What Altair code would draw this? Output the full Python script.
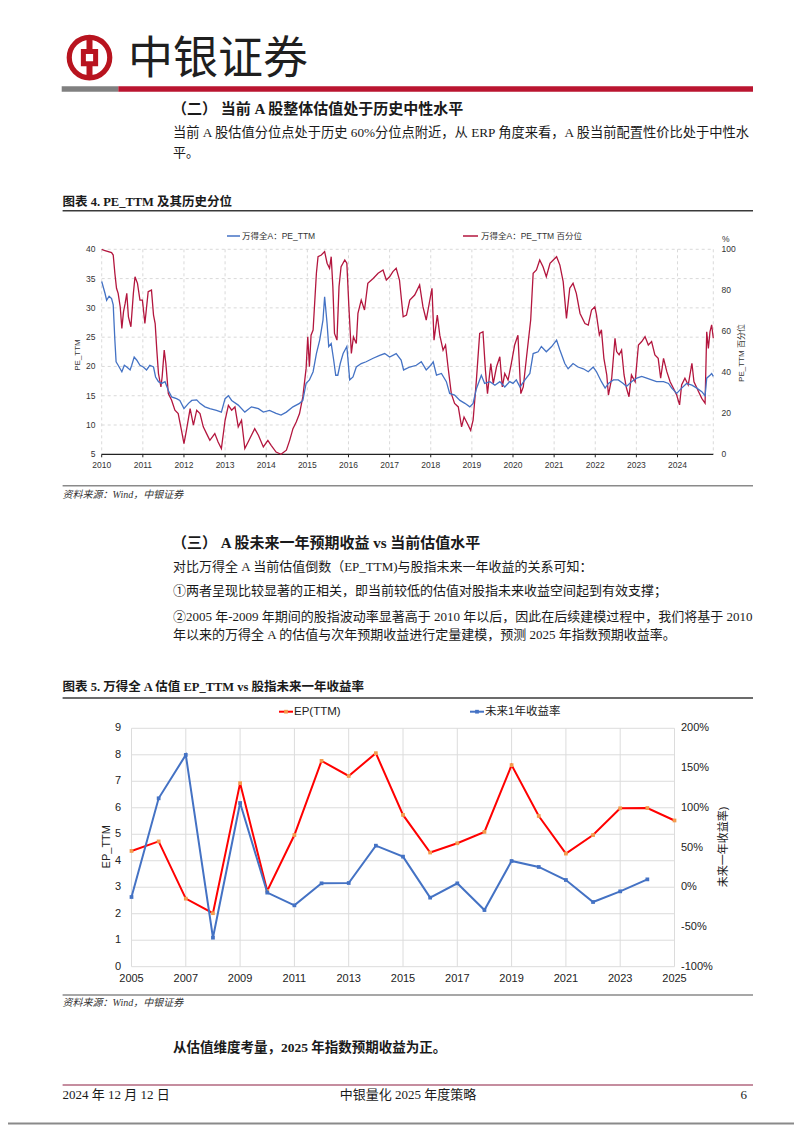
import altair as alt
import pandas as pd

# ---------------- data ----------------
# Chart 4: PE_TTM (left axis) and its historical percentile (right axis, %)
pe_year = [2010.00, 2010.08, 2010.12, 2010.18, 2010.24, 2010.28, 2010.32, 2010.35, 2010.40, 2010.49, 2010.55, 2010.61, 2010.69, 2010.73, 2010.79, 2010.85, 2010.93,
           2011.01, 2011.09, 2011.17, 2011.26, 2011.31, 2011.38, 2011.46, 2011.54, 2011.62, 2011.70, 2011.82, 2011.90,
           2012.00, 2012.11, 2012.19, 2012.31, 2012.39, 2012.51, 2012.63, 2012.79, 2012.91,
           2013.00, 2013.08, 2013.16, 2013.32, 2013.48, 2013.64, 2013.81, 2013.93,
           2014.08, 2014.24, 2014.36, 2014.49, 2014.65, 2014.81, 2014.89, 2014.97,
           2015.05, 2015.14, 2015.22, 2015.30, 2015.38, 2015.42, 2015.48, 2015.52, 2015.58, 2015.64, 2015.69, 2015.74, 2015.80, 2015.87, 2015.96,
           2016.03, 2016.11, 2016.19, 2016.31, 2016.43, 2016.60, 2016.76, 2016.88,
           2017.00, 2017.16, 2017.28, 2017.34, 2017.49, 2017.65, 2017.77, 2017.89,
           2018.00, 2018.06, 2018.14, 2018.26, 2018.38, 2018.46, 2018.58, 2018.71, 2018.83, 2018.95,
           2019.03, 2019.11, 2019.23, 2019.31, 2019.44, 2019.56, 2019.68, 2019.80, 2019.92,
           2020.00, 2020.08, 2020.17, 2020.29, 2020.41, 2020.49, 2020.61, 2020.69, 2020.81, 2020.94,
           2021.06, 2021.14, 2021.26, 2021.34, 2021.46, 2021.58, 2021.71, 2021.83, 2021.95,
           2022.03, 2022.15, 2022.24, 2022.32, 2022.44, 2022.56, 2022.68, 2022.76, 2022.88,
           2023.01, 2023.13, 2023.25, 2023.37, 2023.49, 2023.66, 2023.78, 2023.86, 2023.98,
           2024.10, 2024.22, 2024.35, 2024.47, 2024.59, 2024.67, 2024.71, 2024.79, 2024.83, 2024.87]
pe_value = [34.5, 32.5, 31.3, 32.0, 31.6, 30.5, 24.5, 20.8, 20.2, 19.1, 20.2, 19.9, 19.4, 20.2, 21.6, 21.1, 20.2,
            19.9, 19.4, 20.2, 19.9, 18.2, 17.4, 17.1, 17.4, 15.9, 14.8, 14.5, 14.2,
            12.8, 13.7, 14.2, 14.3, 13.7, 13.1, 12.8, 12.5, 12.2,
            14.5, 15.0, 14.2, 13.4, 12.2, 13.1, 12.8, 12.2,
            12.5, 12.0, 11.7, 12.2, 13.1, 13.7, 14.2, 17.1,
            17.7, 19.1, 22.2, 24.5, 27.9, 31.9, 27.3, 23.4, 23.9, 21.1, 18.5, 18.5, 20.5, 22.2, 23.4,
            17.7, 18.2, 19.9, 20.5, 20.8, 21.4, 21.9, 22.2,
            21.6, 22.2, 21.1, 19.4, 19.9, 20.2, 20.8, 19.4,
            20.2, 20.8, 18.5, 18.8, 17.4, 15.4, 15.1, 14.2, 13.7, 13.1,
            13.7, 16.2, 18.5, 17.1, 17.4, 16.8, 17.4, 16.5, 17.4,
            17.1, 17.7, 16.5, 17.7, 18.8, 22.2, 22.5, 23.4, 22.5, 23.4,
            24.5, 22.8, 20.5, 19.6, 20.5, 19.9, 19.6, 19.1, 19.9,
            19.1, 17.4, 16.3, 17.1, 17.7, 17.7, 17.1, 16.6, 17.4,
            18.0, 18.3, 18.0, 17.7, 17.4, 17.4, 17.1, 16.3, 15.4,
            16.3, 17.1, 16.8, 16.3, 15.7, 15.0, 18.0, 18.5, 18.8, 18.3]

pct_year = [2010.00, 2010.08, 2010.24, 2010.28, 2010.32, 2010.36, 2010.40, 2010.45, 2010.49, 2010.53, 2010.57, 2010.61, 2010.65, 2010.71, 2010.77, 2010.81, 2010.87, 2010.93, 2010.99,
            2011.05, 2011.13, 2011.21, 2011.26, 2011.30, 2011.34, 2011.38, 2011.44, 2011.47, 2011.52, 2011.56, 2011.62, 2011.70, 2011.78, 2011.86, 2011.94,
            2012.00, 2012.06, 2012.15, 2012.23, 2012.31, 2012.39, 2012.47, 2012.55, 2012.63, 2012.75, 2012.83, 2012.91,
            2013.00, 2013.08, 2013.16, 2013.24, 2013.32, 2013.40, 2013.48, 2013.56, 2013.72, 2013.81, 2013.93,
            2014.04, 2014.12, 2014.24, 2014.36, 2014.49, 2014.57, 2014.65, 2014.73, 2014.81, 2014.89, 2014.97,
            2015.01, 2015.05, 2015.09, 2015.14, 2015.22, 2015.26, 2015.34, 2015.42, 2015.48, 2015.54, 2015.58, 2015.62, 2015.66, 2015.72, 2015.77, 2015.82, 2015.91, 2015.96,
            2016.01, 2016.07, 2016.12, 2016.19, 2016.23, 2016.31, 2016.39, 2016.47, 2016.60, 2016.72, 2016.84, 2016.92,
            2017.00, 2017.08, 2017.16, 2017.24, 2017.33, 2017.41, 2017.49, 2017.61, 2017.73, 2017.81, 2017.89,
            2018.03, 2018.08, 2018.16, 2018.22, 2018.30, 2018.36, 2018.42, 2018.50, 2018.58, 2018.67, 2018.75, 2018.81, 2018.89, 2018.97,
            2019.03, 2019.11, 2019.19, 2019.27, 2019.33, 2019.38, 2019.46, 2019.52, 2019.60, 2019.68, 2019.74, 2019.80, 2019.88, 2019.96,
            2020.04, 2020.12, 2020.19, 2020.25, 2020.33, 2020.43, 2020.49, 2020.57, 2020.65, 2020.73, 2020.81, 2020.90, 2020.98,
            2021.06, 2021.14, 2021.22, 2021.30, 2021.38, 2021.46, 2021.54, 2021.63, 2021.75, 2021.83, 2021.91, 2021.99,
            2022.03, 2022.10, 2022.15, 2022.21, 2022.28, 2022.32, 2022.40, 2022.48, 2022.52, 2022.58, 2022.64, 2022.70, 2022.76, 2022.82, 2022.88, 2022.97,
            2023.05, 2023.13, 2023.21, 2023.29, 2023.37, 2023.45, 2023.53, 2023.59, 2023.66, 2023.74, 2023.82, 2023.90, 2023.98,
            2024.05, 2024.10, 2024.18, 2024.26, 2024.35, 2024.40, 2024.51, 2024.59, 2024.67, 2024.71, 2024.75, 2024.79, 2024.83, 2024.87]
pct_value = [100, 99.3, 98.4, 97.2, 88.3, 81, 78.5, 72, 61.4, 69.5, 73.6, 78.5, 67, 62.2, 78.5, 86.6, 83.4, 75.2, 75.2,
             63.8, 79.3, 80.1, 67.9, 63.8, 50.8, 39.4, 32.9, 37.8, 50.8, 44.3, 29.6, 26.4, 21.5, 19.9, 11.7,
             5.2, 11.7, 22.3, 14.2, 21.5, 19.9, 13.4, 10.1, 6.8, 10.1, 6.0, 2.8,
             16.6, 23.9, 21.5, 23.1, 13.4, 16.6, 2.8, 6.0, 12.5, 9.3, 3.6,
             6.8, 4.4, 1.1, 0, 2.0, 6.8, 12.5, 15.8, 19.9, 28.0, 41.9,
             57.3, 42.7, 58.1, 60.6, 88.3, 96.4, 97.2, 98.9, 93.2, 90.7, 96.4, 81.8, 59.0, 55.7, 81.8, 91.5, 94.8, 93.2,
             72.0, 49.2, 57.3, 54.1, 68.7, 75.2, 70.4, 83.4, 85.8, 88.3, 89.9, 85.0,
             86.6, 89.1, 90.7, 85.0, 67.1, 67.9, 75.2, 77.7, 82.6, 72.0, 65.5,
             81.0, 55.7, 67.9, 58.1, 50.8, 53.3, 42.7, 29.6, 24.8, 23.1, 13.4, 18.2, 15.0, 11.7,
             16.6, 36.2, 59.0, 59.8, 41.0, 29.6, 44.3, 34.5, 42.7, 47.6, 32.9, 39.4, 36.2, 44.3,
             53.3, 58.1, 29.6, 32.9, 47.6, 65.5, 88.3, 89.9, 94.8, 91.5, 86.6, 93.2, 94.8,
             96.4, 92.3, 84.2, 66.3, 81.0, 83.4, 78.5, 68.7, 63.8, 63.0, 70.4, 72.0,
             68.0, 58.2, 60.7, 46.8, 38.7, 28.9, 37.1, 56.6, 50.1, 48.5, 50.9, 38.7, 32.2, 28.1, 38.7, 35.4,
             53.3, 55.0, 57.4, 53.3, 55.0, 48.5, 46.8, 37.1, 46.8, 40.3, 35.4, 32.2, 28.9,
             24.1, 33.8, 37.1, 33.8, 44.4, 35.4, 30.6, 27.3, 24.9, 59.8, 51.7, 59.8, 63.1, 56.6]

c1_years = list(range(2010, 2025))
c1_x_end = 2024.87
c1_left_ticks = [5, 10, 15, 20, 25, 30, 35, 40]
c1_right_ticks = [0, 20, 40, 60, 80, 100]

# Chart 5: EP_TTM (left axis) and next-year index return (right axis, %)
ep_year = list(range(2005, 2026))
ep_value = [4.37, 4.73, 2.57, 2.02, 6.93, 2.86, 4.97, 7.77, 7.20, 8.06, 5.73,
            4.31, 4.66, 5.09, 7.61, 5.69, 4.27, 4.97, 5.98, 5.99, 5.52]
ret_year = list(range(2005, 2025))
ret_value = [-12.3, 111.9, 166.5, -63.5, 106.0, -6.8, -22.8, 4.9, 5.3, 52.3,
             38.5, -13.1, 4.9, -28.7, 33.0, 25.5, 9.1, -18.6, -5.2, 9.9]
c2_year_ticks = list(range(2005, 2026, 2))
c2_left_ticks = list(range(0, 10))
c2_right_ticks = [-100, -50, 0, 50, 100, 150, 200]

# ---------------- page layout (canvas px) ----------------
SERIF = "Liberation Serif, Noto Sans CJK SC"
SANS = "Liberation Sans, Noto Sans CJK SC"
NARROW = "Liberation Sans Narrow, Liberation Sans, Noto Sans CJK SC"
BASE = pd.DataFrame({"d": [0]})

PAGE_L, PAGE_R = 54.6, 745.0

# chart 4 plot area
X1_L, X1_R, Y1_T, Y1_B = 93.7, 705.3, 241.3, 446.3
# chart 5 plot area
X2_L, X2_R, Y2_T, Y2_B = 123.5, 666.5, 720.3, 958.7

X1 = alt.Scale(domain=[2010, c1_x_end], range=[X1_L, X1_R], nice=False, zero=False)
YL1 = alt.Scale(domain=[5, 40], range=[Y1_B, Y1_T], nice=False, zero=False)
YR1 = alt.Scale(domain=[0, 100], range=[Y1_B, Y1_T], nice=False, zero=False)
X2 = alt.Scale(domain=[2005, 2025], range=[X2_L, X2_R], nice=False, zero=False)
YL2 = alt.Scale(domain=[0, 9], range=[Y2_B, Y2_T], nice=False, zero=False)
YR2 = alt.Scale(domain=[-100, 200], range=[Y2_B, Y2_T], nice=False, zero=False)

BLUE1 = "#4472C4"
RED1 = "#B3163E"
RED2 = "#FF0000"
ORANGE2 = "#F39B4C"
BLUE2 = "#4472C4"
LOGO_RED = "#B8141F"


def txt(s, x, y, size=13, weight="normal", color="#1a1a1a", align="left",
        font=SERIF, angle=0, style="normal"):
    return alt.Chart(BASE).mark_text(
        text=s, fontSize=size, fontWeight=weight, color=color, align=align,
        baseline="middle", font=font, angle=angle, fontStyle=style
    ).encode(x=alt.value(x), y=alt.value(y))


def hrule(x1, x2, y, color, w):
    return alt.Chart(BASE).mark_rule(color=color, strokeWidth=w).encode(
        x=alt.value(x1), x2=alt.value(x2), y=alt.value(y))


layers = []

# ---------- header ----------
LOGO_X, LOGO_Y = 81.5, 49.6
layers.append(alt.Chart(BASE).mark_point(shape="circle", filled=False, size=1640,
                                          strokeWidth=5.2, color=LOGO_RED, opacity=1)
              .encode(x=alt.value(LOGO_X), y=alt.value(LOGO_Y)))
for y1, y2 in [(LOGO_Y - 20.5, LOGO_Y - 7), (LOGO_Y + 7, LOGO_Y + 20.5)]:
    layers.append(alt.Chart(BASE).mark_rule(color=LOGO_RED, strokeWidth=6)
                  .encode(x=alt.value(LOGO_X), y=alt.value(y1), y2=alt.value(y2)))
layers.append(alt.Chart(BASE).mark_point(shape="square", filled=False, size=150,
                                          strokeWidth=5, color=LOGO_RED, opacity=1)
              .encode(x=alt.value(LOGO_X), y=alt.value(LOGO_Y)))
layers.append(txt("中银证券", 120, 51.5, size=45, font="Noto Sans CJK SC", color="#1f1f1f"))
layers.append(hrule(53.7, 110.3, 80.9, "#808080", 5.5))
layers.append(hrule(110.3, PAGE_R, 80.9, "#BA1530", 5.5))

# ---------- section 2 text ----------
layers.append(txt("（二） 当前 A 股整体估值处于历史中性水平", 164, 101.3, size=15, weight="bold"))
layers.append(txt("当前 A 股估值分位点处于历史 60%分位点附近，从 ERP 角度来看，A 股当前配置性价比处于中性水",
                  165, 125.3, size=13.25))
layers.append(txt("平。", 165, 145.3, size=13))
layers.append(txt("图表 4. PE_TTM 及其历史分位", PAGE_L, 193.7, size=12.5, weight="bold"))
layers.append(hrule(PAGE_L, PAGE_R, 202.7, "#3a3a3a", 1.5))

# ---------- chart 4 ----------
grid_c = "#cfcfcf"
layers.append(alt.Chart(pd.DataFrame({"v": c1_left_ticks[1:]})).mark_rule(
    color=grid_c, strokeDash=[3, 3], strokeWidth=0.8).encode(
    y=alt.Y("v:Q", scale=YL1, axis=None), x=alt.value(X1_L), x2=alt.value(X1_R)))
layers.append(alt.Chart(pd.DataFrame({"yr": c1_years + [c1_x_end]})).mark_rule(
    color=grid_c, strokeDash=[3, 3], strokeWidth=0.8).encode(
    x=alt.X("yr:Q", scale=X1, axis=None), y=alt.value(Y1_T), y2=alt.value(Y1_B)))
layers.append(hrule(X1_L, X1_R, Y1_B, "#222222", 1.2))
layers.append(alt.Chart(pd.DataFrame({"yr": c1_years})).mark_rule(
    color="#222222", strokeWidth=1).encode(
    x=alt.X("yr:Q", scale=X1, axis=None), y=alt.value(Y1_B), y2=alt.value(Y1_B + 3)))
layers.append(alt.Chart(pd.DataFrame({"yr": c1_years})).mark_text(
    fontSize=8.5, font=SANS, color="#333333", baseline="middle").encode(
    x=alt.X("yr:Q", scale=X1, axis=None), y=alt.value(456.5), text=alt.Text("yr:Q", format="d")))
layers.append(alt.Chart(pd.DataFrame({"v": c1_left_ticks})).mark_text(
    fontSize=8.5, font=SANS, color="#333333", align="right", baseline="middle").encode(
    y=alt.Y("v:Q", scale=YL1, axis=None), x=alt.value(87.5), text=alt.Text("v:Q", format="d")))
layers.append(alt.Chart(pd.DataFrame({"v": c1_right_ticks})).mark_text(
    fontSize=8.5, font=SANS, color="#333333", align="left", baseline="middle").encode(
    y=alt.Y("v:Q", scale=YR1, axis=None), x=alt.value(713.5), text=alt.Text("v:Q", format="d")))
layers.append(txt("%", 714, 230.5, size=8.5, font=SANS, color="#333333"))
layers.append(txt("PE_TTM", 70, 347, size=8, font=SANS, color="#333333", align="center", angle=270))
layers.append(txt("PE_TTM 百分位", 734, 345, size=8, font=SANS, color="#333333", align="center", angle=270))

layers.append(alt.Chart(pd.DataFrame({"yr": pct_year, "v": pct_value})).mark_line(
    color=RED1, strokeWidth=1.3).encode(
    x=alt.X("yr:Q", scale=X1, axis=None), y=alt.Y("v:Q", scale=YR1, axis=None)))
layers.append(alt.Chart(pd.DataFrame({"yr": pe_year, "v": pe_value})).mark_line(
    color=BLUE1, strokeWidth=1.3).encode(
    x=alt.X("yr:Q", scale=X1, axis=None), y=alt.Y("v:Q", scale=YL1, axis=None)))

# chart 4 legend
layers.append(hrule(219, 232, 228, BLUE1, 1.5))
layers.append(txt("万得全A：PE_TTM", 234, 228, size=8.5, font=SANS, color="#333333"))
layers.append(hrule(455, 470, 228, RED1, 1.5))
layers.append(txt("万得全A：PE_TTM 百分位", 473, 228, size=8.5, font=SANS, color="#333333"))

layers.append(hrule(PAGE_L, PAGE_R, 477.7, "#8a8a8a", 1.5))
layers.append(txt("资料来源：Wind，中银证券", PAGE_L, 487, size=10, style="italic", color="#333333"))

# ---------- section 3 text ----------
layers.append(txt("（三） A 股未来一年预期收益 vs 当前估值水平", 164, 535.3, size=15, weight="bold"))
layers.append(txt("对比万得全 A 当前估值倒数（EP_TTM)与股指未来一年收益的关系可知：", 165, 558.7, size=13))
layers.append(txt("①两者呈现比较显著的正相关，即当前较低的估值对股指未来收益空间起到有效支撑；", 165, 583, size=13))
layers.append(txt("②2005 年-2009 年期间的股指波动率显著高于 2010 年以后，因此在后续建模过程中，我们将基于 2010",
                  165, 608.7, size=13))
layers.append(txt("年以来的万得全 A 的估值与次年预期收益进行定量建模，预测 2025 年指数预期收益率。", 165, 627, size=13))
layers.append(txt("图表 5. 万得全 A 估值 EP_TTM vs 股指未来一年收益率", PAGE_L, 678.7, size=12.5, weight="bold"))
layers.append(hrule(PAGE_L, PAGE_R, 690, "#3a3a3a", 1.5))

# ---------- chart 5 ----------
grid2 = "#dcdcdc"
layers.append(alt.Chart(pd.DataFrame({"v": c2_left_ticks})).mark_rule(
    color=grid2, strokeWidth=1).encode(
    y=alt.Y("v:Q", scale=YL2, axis=None), x=alt.value(X2_L), x2=alt.value(X2_R)))
layers.append(alt.Chart(pd.DataFrame({"yr": c2_year_ticks})).mark_rule(
    color=grid2, strokeWidth=1).encode(
    x=alt.X("yr:Q", scale=X2, axis=None), y=alt.value(Y2_T), y2=alt.value(Y2_B)))
layers.append(alt.Chart(pd.DataFrame({"yr": c2_year_ticks})).mark_text(
    fontSize=11, font=NARROW, color="#222222", baseline="middle").encode(
    x=alt.X("yr:Q", scale=X2, axis=None), y=alt.value(971), text=alt.Text("yr:Q", format="d")))
layers.append(alt.Chart(pd.DataFrame({"v": c2_left_ticks})).mark_text(
    fontSize=11, font=NARROW, color="#222222", align="right", baseline="middle").encode(
    y=alt.Y("v:Q", scale=YL2, axis=None), x=alt.value(113), text=alt.Text("v:Q", format="d")))
layers.append(alt.Chart(pd.DataFrame({"v": c2_right_ticks})).transform_calculate(
    lab="datum.v + '%'").mark_text(
    fontSize=11, font=NARROW, color="#222222", align="left", baseline="middle").encode(
    y=alt.Y("v:Q", scale=YR2, axis=None), x=alt.value(673), text="lab:N"))
layers.append(txt("EP_TTM", 99, 838.7, size=11, font=NARROW, color="#222222", align="center", angle=270))
layers.append(txt("未来一年收益率)", 715.5, 839, size=11, font=NARROW, color="#222222", align="center", angle=270))

layers.append(alt.Chart(pd.DataFrame({"yr": ep_year, "v": ep_value})).mark_line(
    color=RED2, strokeWidth=2,
    point=alt.OverlayMarkDef(shape="square", size=14, filled=True, color=ORANGE2)).encode(
    x=alt.X("yr:Q", scale=X2, axis=None), y=alt.Y("v:Q", scale=YL2, axis=None)))
layers.append(alt.Chart(pd.DataFrame({"yr": ret_year, "v": ret_value})).mark_line(
    color=BLUE2, strokeWidth=2,
    point=alt.OverlayMarkDef(shape="square", size=14, filled=True, color=BLUE2)).encode(
    x=alt.X("yr:Q", scale=X2, axis=None), y=alt.Y("v:Q", scale=YR2, axis=None)))

# chart 5 legend
layers.append(hrule(271, 285, 703.7, RED2, 2))
layers.append(alt.Chart(BASE).mark_point(shape="square", size=14, filled=True, color=ORANGE2, opacity=1)
              .encode(x=alt.value(278), y=alt.value(703.7)))
layers.append(txt("EP(TTM)", 286, 703.7, size=11.5, font=NARROW, color="#222222"))
layers.append(hrule(462, 476, 703.7, BLUE2, 2))
layers.append(alt.Chart(BASE).mark_point(shape="square", size=14, filled=True, color=BLUE2, opacity=1)
              .encode(x=alt.value(469), y=alt.value(703.7)))
layers.append(txt("未来1年收益率", 477, 703.7, size=11.5, font=NARROW, color="#222222"))

layers.append(hrule(PAGE_L, PAGE_R, 987, "#8a8a8a", 1.5))
layers.append(txt("资料来源：Wind，中银证券", PAGE_L, 995.3, size=10, style="italic", color="#333333"))

# ---------- conclusion and footer ----------
layers.append(txt("从估值维度考量，2025 年指数预期收益为正。", 165, 1039.7, size=13.5, weight="bold"))
layers.append(hrule(PAGE_L, PAGE_R, 1077, "#8C1D40", 1.2))
layers.append(txt("2024 年 12 月 12 日", PAGE_L, 1087, size=13))
layers.append(txt("中银量化 2025 年度策略", 400, 1087, size=13, align="center"))
layers.append(txt("6", 739, 1087, size=13, align="right"))
layers.append(hrule(0, 786, 1115.5, "#8a8a8a", 2))

chart = alt.layer(*layers).resolve_scale(
    x="independent", y="independent"
).properties(
    width=786, height=1117, padding=0,
    autosize=alt.AutoSizeParams(type="none"), background="white"
).configure_view(stroke=None)

chart.save("out.html", embed_options={"renderer": "svg", "actions": False})
